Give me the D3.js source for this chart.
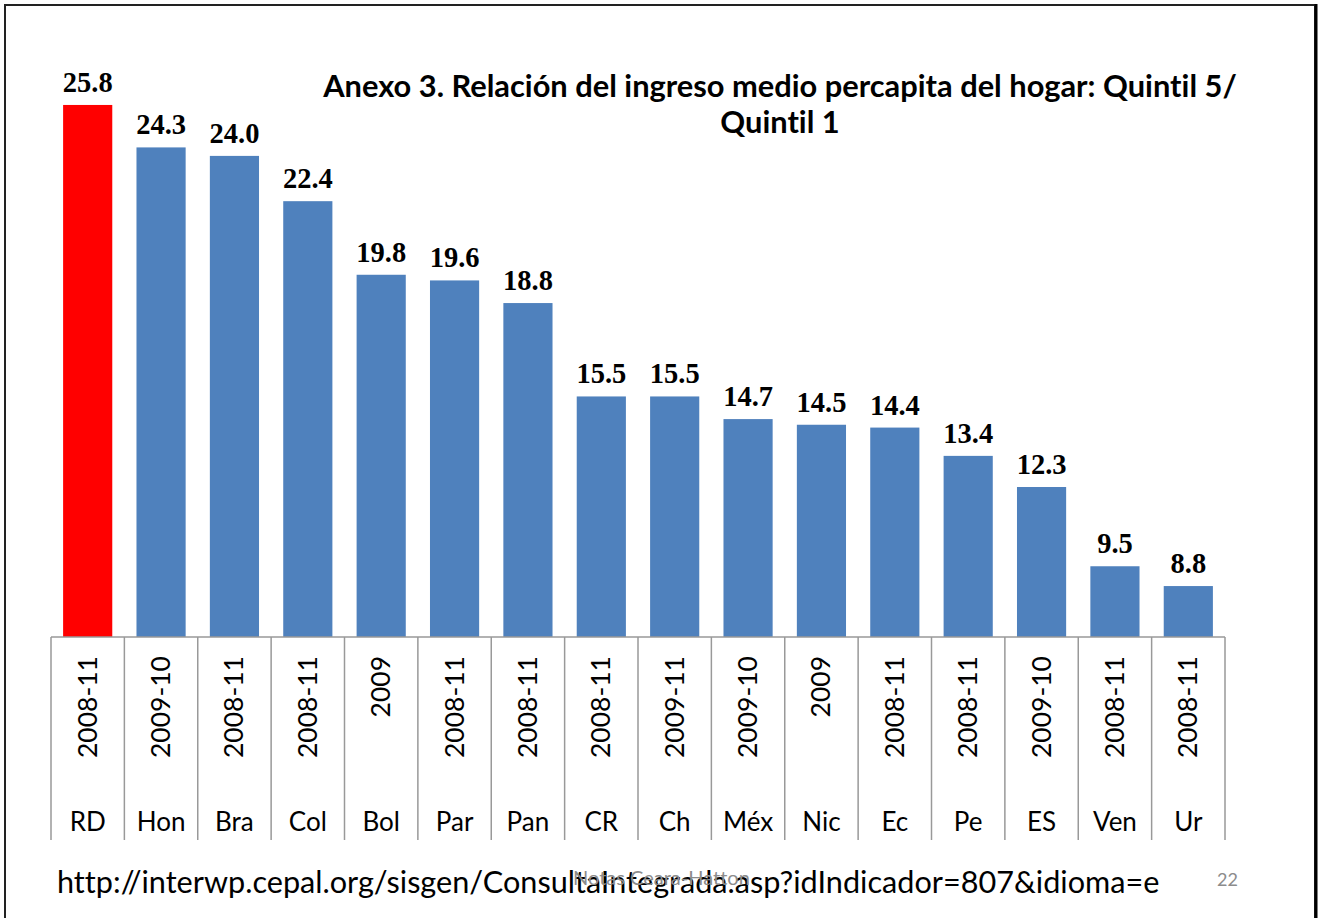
<!DOCTYPE html>
<html>
<head>
<meta charset="utf-8">
<script src="https://cdn.jsdelivr.net/npm/d3@7"></script>
<style>
  body { margin: 0; background: #fff; }
  svg { display: block; }
  text { font-variant-ligatures: none; }
</style>
</head>
<body>
<svg id="vis" width="1320" height="918"></svg>
<script>
// data
var countries = ["RD", "Hon", "Bra", "Col", "Bol", "Par", "Pan", "CR", "Ch", "Méx", "Nic", "Ec", "Pe", "ES", "Ven", "Ur"];
var years = ["2008-11", "2009-10", "2008-11", "2008-11", "2009", "2008-11", "2008-11", "2008-11", "2009-11", "2009-10", "2009", "2008-11", "2008-11", "2009-10", "2008-11", "2008-11"];
var values = [25.8, 24.3, 24.0, 22.4, 19.8, 19.6, 18.8, 15.5, 15.5, 14.7, 14.5, 14.4, 13.4, 12.3, 9.5, 8.8];
var yDomain = [7, 26];

var titleLines = ["Anexo 3. Relación del ingreso medio percapita del hogar:  Quintil 5/", "Quintil 1"];
var sourceText = "http://interwp.cepal.org/sisgen/ConsultaIntegrada.asp?idIndicador=807&idioma=e";
var footerNote = "Notas Ceara-Hatton";
var pageNum = "22";

var svg = d3.select("#vis");
var sans = "Lato, 'Open Sans', sans-serif";

// frame
svg.append("rect")
  .attr("x", 5).attr("y", 5)
  .attr("width", 1310).attr("height", 930)
  .attr("fill", "none")
  .attr("stroke", "#222")
  .attr("stroke-width", 2);
svg.append("line")
  .attr("x1", 1316).attr("x2", 1316)
  .attr("y1", 4).attr("y2", 918)
  .attr("stroke", "#000").attr("stroke-width", 3);

var left = 51, right = 1225, baseY = 637, bottomY = 840;

var data = countries.map(function(c, i) {
  return {country: c, year: years[i], value: values[i]};
});

var xBar = d3.scaleBand()
  .domain(countries)
  .range([left, right])
  .paddingInner(0.33)
  .paddingOuter(0.165);

var xCat = d3.scaleBand()
  .domain(countries)
  .range([left, right])
  .padding(0);

var y = d3.scaleLinear()
  .domain(yDomain)
  .range([baseY, 99.3]);

// bars
svg.append("g").selectAll("rect")
  .data(data)
  .enter().append("rect")
  .attr("x", function(d) { return xBar(d.country); })
  .attr("width", xBar.bandwidth())
  .attr("y", function(d) { return y(d.value); })
  .attr("height", function(d) { return baseY - y(d.value); })
  .attr("fill", function(d, i) { return i == 0 ? "#FF0000" : "#4F81BD"; });

// value labels
svg.append("g").selectAll("text")
  .data(data)
  .enter().append("text")
  .attr("x", function(d) { return xBar(d.country) + xBar.bandwidth() / 2; })
  .attr("y", function(d) { return y(d.value) - 13; })
  .attr("text-anchor", "middle")
  .style("font-family", "'Liberation Serif', 'Times New Roman', serif")
  .style("font-weight", "bold")
  .style("font-size", "28.5px")
  .text(function(d) { return d.value.toFixed(1); });

// category axis lines
var axisG = svg.append("g");
axisG.append("line")
  .attr("x1", left).attr("x2", right)
  .attr("y1", baseY).attr("y2", baseY)
  .attr("stroke", "#999").attr("stroke-width", 1.5);

var bounds = countries.map(function(c) { return xCat(c); }).concat([right]);
axisG.selectAll("line.sep")
  .data(bounds)
  .enter().append("line")
  .attr("class", "sep")
  .attr("x1", function(d) { return d; })
  .attr("x2", function(d) { return d; })
  .attr("y1", baseY).attr("y2", bottomY)
  .attr("stroke", "#999").attr("stroke-width", 1.5);

// year labels (rotated)
axisG.selectAll("text.year")
  .data(data)
  .enter().append("text")
  .attr("class", "year")
  .attr("transform", function(d) {
    return "translate(" + (xCat(d.country) + xCat.bandwidth() / 2 + 9) + ",656) rotate(-90)";
  })
  .attr("text-anchor", "end")
  .style("font-family", sans)
  .style("font-size", "26.5px")
  .text(function(d) { return d.year; });

// country labels
axisG.selectAll("text.country")
  .data(data)
  .enter().append("text")
  .attr("class", "country")
  .attr("x", function(d) { return xCat(d.country) + xCat.bandwidth() / 2; })
  .attr("y", 831)
  .attr("text-anchor", "middle")
  .style("font-family", sans)
  .style("font-size", "26px")
  .text(function(d) { return d.country; });

// title
var title = svg.append("text")
  .attr("text-anchor", "middle")
  .style("font-family", sans)
  .style("font-weight", "bold")
  .style("font-size", "26px");
title.append("tspan").attr("x", 780).attr("y", 97).text(titleLines[0]);
title.append("tspan").attr("x", 780).attr("y", 133).text(titleLines[1]);
var t0 = title.select("tspan").node().getComputedTextLength();
title.style("font-size", (26 * 914 / t0) + "px");

// footer
var src = svg.append("text")
  .attr("x", 57).attr("y", 893)
  .style("font-family", sans)
  .style("font-size", "26px")
  .text(sourceText);
var w0 = src.node().getComputedTextLength();
src.style("font-size", (26 * 1103 / w0) + "px");

var note = svg.append("text")
  .attr("x", 573).attr("y", 885)
  .style("font-family", sans)
  .style("font-size", "18px")
  .style("fill", "#8c8c8c")
  .text(footerNote);
var n0 = note.node().getComputedTextLength();
note.style("font-size", (18 * 177 / n0) + "px");

svg.append("text")
  .attr("x", 1238).attr("y", 886)
  .attr("text-anchor", "end")
  .style("font-family", sans)
  .style("font-size", "18px")
  .style("fill", "#8c8c8c")
  .text(pageNum);
</script>
</body>
</html>
